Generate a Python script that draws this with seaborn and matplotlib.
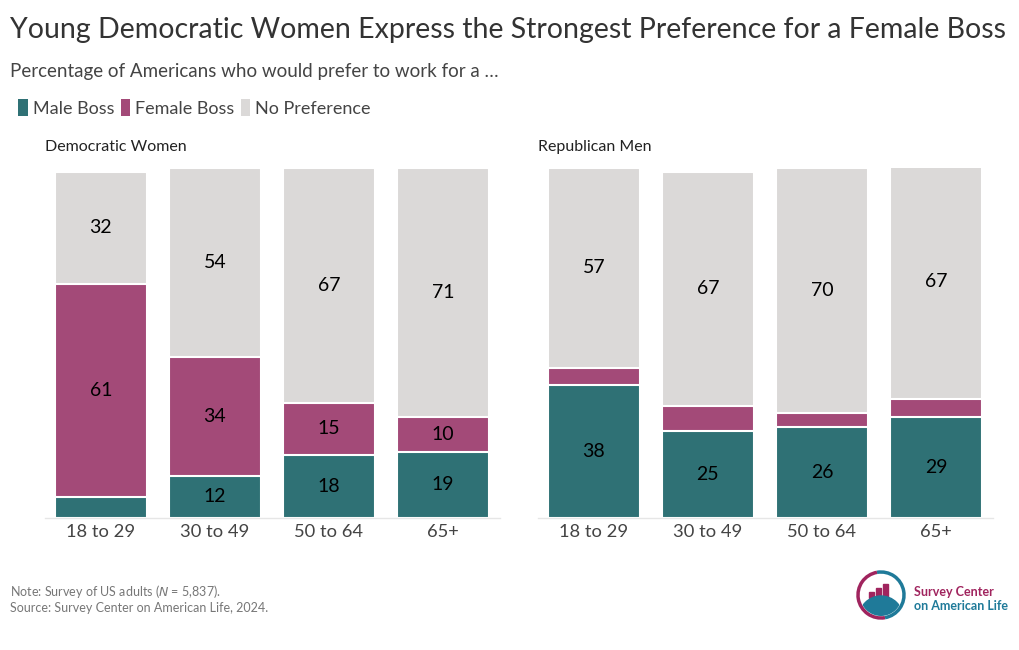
import matplotlib
matplotlib.use('Agg')
import matplotlib.pyplot as plt
from matplotlib.patches import Patch, Arc, Rectangle, Circle
import seaborn as sns
import pandas as pd

age_groups = ['18 to 29', '30 to 49', '50 to 64', '65+']
panels = ['Democratic Women', 'Republican Men']

dem_male = [6, 12, 18, 19]
dem_female = [61, 34, 15, 10]
dem_none = [32, 54, 67, 71]

rep_male = [38, 25, 26, 29]
rep_female = [5, 7, 4, 5]
rep_none = [57, 67, 70, 67]

series = ['Male Boss', 'Female Boss', 'No Preference']
colors = {'Male Boss': '#2f7175', 'Female Boss': '#a34a78', 'No Preference': '#dbd9d8'}

sns.set_style('white')
plt.rcParams['font.family'] = ['Lato', 'DejaVu Sans']

fig = plt.figure(figsize=(10.2, 6.5), dpi=100)

panel_data = {
    'Democratic Women': (dem_male, dem_female, dem_none),
    'Republican Men': (rep_male, rep_female, rep_none),
}
lefts = [45 / 1020, 538 / 1020]

for panel, left in zip(panels, lefts):
    male, female, none = panel_data[panel]
    df = pd.DataFrame({'age': age_groups, 'male': male, 'female': female, 'none': none})
    df['c_female'] = df['male'] + df['female']
    df['c_none'] = df['c_female'] + df['none']

    ax = fig.add_axes([left, 132 / 650, 455 / 1020, 350 / 650])
    # stacked by drawing cumulative totals on top of each other
    for col, name in [('c_none', 'No Preference'), ('c_female', 'Female Boss'), ('male', 'Male Boss')]:
        sns.barplot(data=df, x='age', y=col, color=colors[name], width=0.807,
                    edgecolor='white', linewidth=1.5, saturation=1, ax=ax)

    for i in range(len(df)):
        segs = [(df['male'][i], 0), (df['female'][i], df['male'][i]), (df['none'][i], df['c_female'][i])]
        for val, base in segs:
            if val >= 8:
                ax.text(i, base + val / 2, str(val), ha='center', va='center',
                        fontsize=14, color='black')

    ax.set_ylim(0, 100)
    ax.set_xlim(-0.49, 3.5)
    ax.set_xlabel('')
    ax.set_ylabel('')
    ax.set_yticks([])
    ax.tick_params(axis='x', length=0, labelsize=13.2, labelcolor='#444444', pad=4)
    for s in ['top', 'right', 'left']:
        ax.spines[s].set_visible(False)
    ax.spines['bottom'].set_color('#e6e6e6')
    ax.spines['bottom'].set_linewidth(1)
    ax.text(-0.49, 104, panel, fontsize=11.5, color='#222222', ha='left', va='bottom')

fig.text(10 / 1020, 1 - 30 / 650, 'Young Democratic Women Express the Strongest Preference for a Female Boss',
         fontsize=20.5, color='#333333', ha='left', va='center')
fig.text(10 / 1020, 1 - 72 / 650, 'Percentage of Americans who would prefer to work for a \u2026',
         fontsize=13.5, color='#444444', ha='left', va='center')

handles = [Patch(facecolor=colors[s], edgecolor='none', label=s) for s in series]
fig.legend(handles=handles, loc='center left', bbox_to_anchor=(2 / 1020, 1 - 108 / 650),
           ncol=3, frameon=False, fontsize=13, handlelength=0.55, handleheight=1.0,
           handletextpad=0.25, columnspacing=0.35, labelcolor='#444444')

fig.text(10 / 1020, 1 - 592 / 650, 'Note: Survey of US adults ($N$ = 5,837).',
         fontsize=9, color='#777777', ha='left', va='center')
fig.text(10 / 1020, 1 - 608 / 650, 'Source: Survey Center on American Life, 2024.',
         fontsize=9, color='#777777', ha='left', va='center')

# logo
lax = fig.add_axes([852 / 1020, 1 - 620 / 650, 60 / 1020, 50 / 650])
lax.set_xlim(0, 60)
lax.set_ylim(0, 50)
lax.set_aspect('equal')
lax.axis('off')
lax.add_patch(Arc((29, 25), 46, 46, theta1=100, theta2=280, color='#a0245e', lw=2.5))
lax.add_patch(Arc((29, 25), 46, 46, theta1=280, theta2=460, color='#1f7a99', lw=2.5))
for bx, bh in [(17, 6), (24, 10), (31, 14)]:
    lax.add_patch(Rectangle((bx, 22), 5, bh, color='#a0245e'))
lax.add_patch(Circle((29, 2), 22, color='#1f7a99', clip_on=True))
lax.patches[-1].set_clip_path(Circle((29, 25), 21, transform=lax.transData))
fig.text(914 / 1020, 1 - 592 / 650, 'Survey Center', fontsize=9, color='#a0245e',
         fontweight='bold', ha='left', va='center')
fig.text(914 / 1020, 1 - 606 / 650, 'on American Life', fontsize=9, color='#1f7a99',
         fontweight='bold', ha='left', va='center')

fig.savefig('out.png', dpi=100)
